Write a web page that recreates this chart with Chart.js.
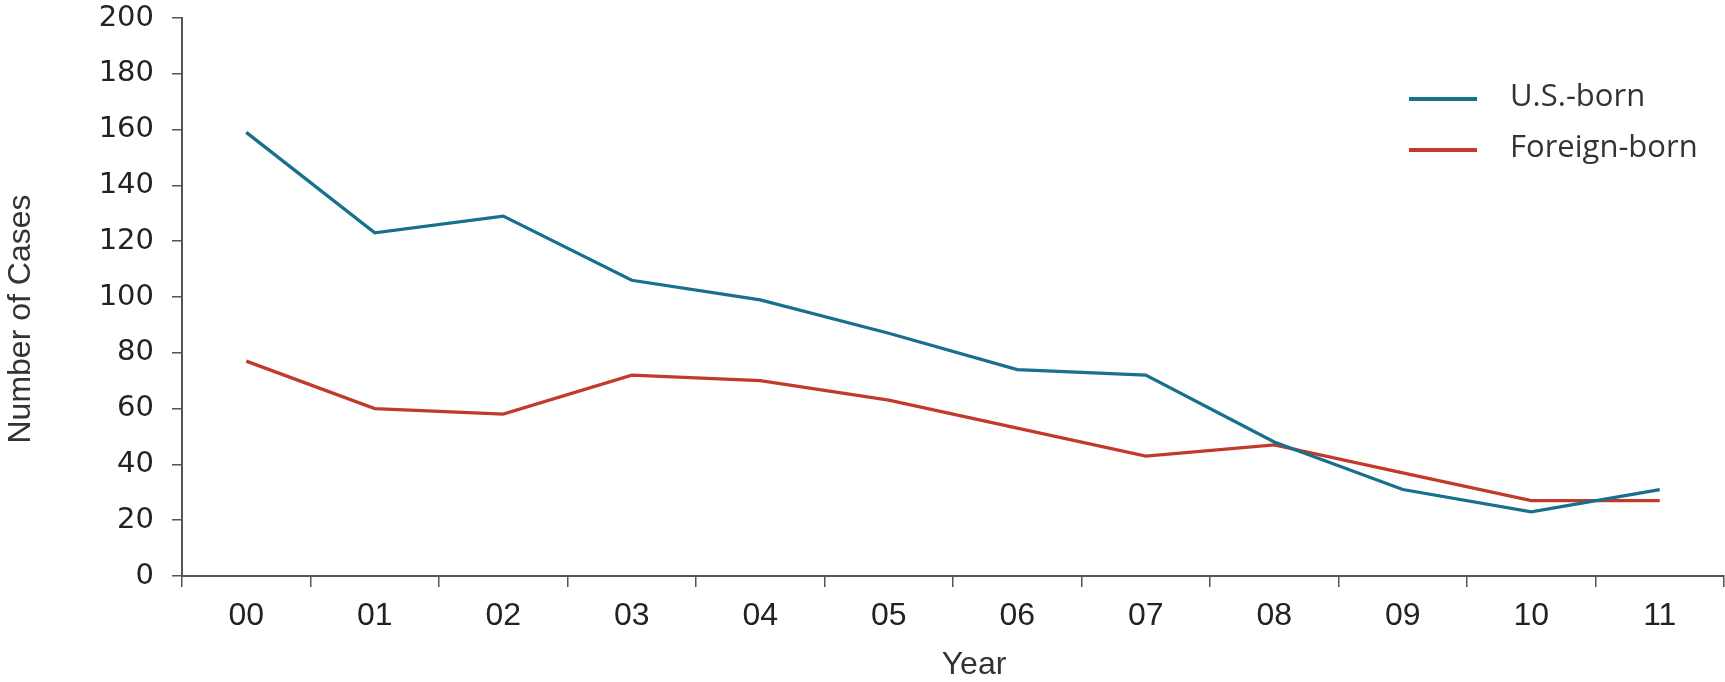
<!DOCTYPE html>
<html>
<head>
<meta charset="utf-8">
<script src="https://cdn.jsdelivr.net/npm/chart.js@4"></script>
<style>
html,body{margin:0;padding:0;background:#fff;}
#wrap{position:relative;width:1725px;height:682px;}
</style>
</head>
<body>
<div id="wrap"><canvas id="c" width="1725" height="682"></canvas></div>
<script>
const years = ["00","01","02","03","04","05","06","07","08","09","10","11"];
const usBorn = [159,123,129,106,99,87,74,72,48,31,23,31];
const foreignBorn = [77,60,58,72,70,63,53,43,47,37,27,27];
const yTicks = [0,20,40,60,80,100,120,140,160,180,200];
const seriesLabels = ["U.S.-born","Foreign-born"];
const seriesColors = ["#17708c","#c23a2b"];
const xTitle = "Year";
const yTitle = "Number of Cases";

const legendPlugin = {
  id: 'insideLegend',
  afterDraw(chart) {
    const ctx = chart.ctx;
    ctx.save();
    chart.data.datasets.forEach((ds, i) => {
      const y = 99 + i * 51;
      ctx.strokeStyle = ds.borderColor;
      ctx.lineWidth = 4;
      ctx.beginPath();
      ctx.moveTo(1409, y);
      ctx.lineTo(1477, y);
      ctx.stroke();
      ctx.fillStyle = '#333';
      ctx.font = '31px "Open Sans", sans-serif';
      ctx.textBaseline = 'middle';
      ctx.textAlign = 'left';
      ctx.fillText(ds.label, 1510, y - 2);
    });
    // axis titles
    ctx.fillStyle = '#333';
    ctx.font = '32px "Liberation Sans", sans-serif';
    ctx.textAlign = 'center';
    ctx.textBaseline = 'middle';
    ctx.fillText(xTitle, 974, 665);
    ctx.translate(21, 319);
    ctx.rotate(-Math.PI / 2);
    ctx.fillText(yTitle, 0, 0);
    ctx.restore();
  }
};

new Chart(document.getElementById('c'), {
  type: 'line',
  data: {
    labels: years,
    datasets: [
      {label: seriesLabels[0], data: usBorn, borderColor: seriesColors[0], backgroundColor: seriesColors[0], borderWidth: 3.3, pointRadius: 0, tension: 0},
      {label: seriesLabels[1], data: foreignBorn, borderColor: seriesColors[1], backgroundColor: seriesColors[1], borderWidth: 3.3, pointRadius: 0, tension: 0}
    ]
  },
  options: {
    responsive: false,
    animation: false,
    layout: {padding: {top: 18, right: 1, bottom: 0, left: 0}},
    plugins: {legend: {display: false}, tooltip: {enabled: false}},
    scales: {
      x: {
        offset: true,
        grid: {offset: true, drawOnChartArea: false, drawTicks: true, tickLength: 11, color: '#555', lineWidth: 1.5},
        border: {display: true, color: '#555', width: 2},
        ticks: {color: '#222', font: {family: '"Liberation Sans", sans-serif', size: 32}, padding: 10},
        title: {display: false},
        afterFit(scale) { scale.height = 106; scale.paddingLeft = 0; scale.paddingRight = 0; }
      },
      y: {
        min: 0, max: 200,
        afterBuildTicks(scale) { scale.ticks = yTicks.map(v => ({value: v})); },
        grid: {drawOnChartArea: false, drawTicks: true, tickLength: 10, color: '#555', lineWidth: 1.5},
        border: {display: true, color: '#555', width: 2},
        ticks: {color: '#222', font: {family: '"DejaVu Sans", sans-serif', size: 29}, padding: 18},
        title: {display: false},
        afterFit(scale) { scale.width = 182; scale.paddingTop = 0; scale.paddingBottom = 0; }
      }
    }
  },
  plugins: [legendPlugin]
});
</script>
</body>
</html>
